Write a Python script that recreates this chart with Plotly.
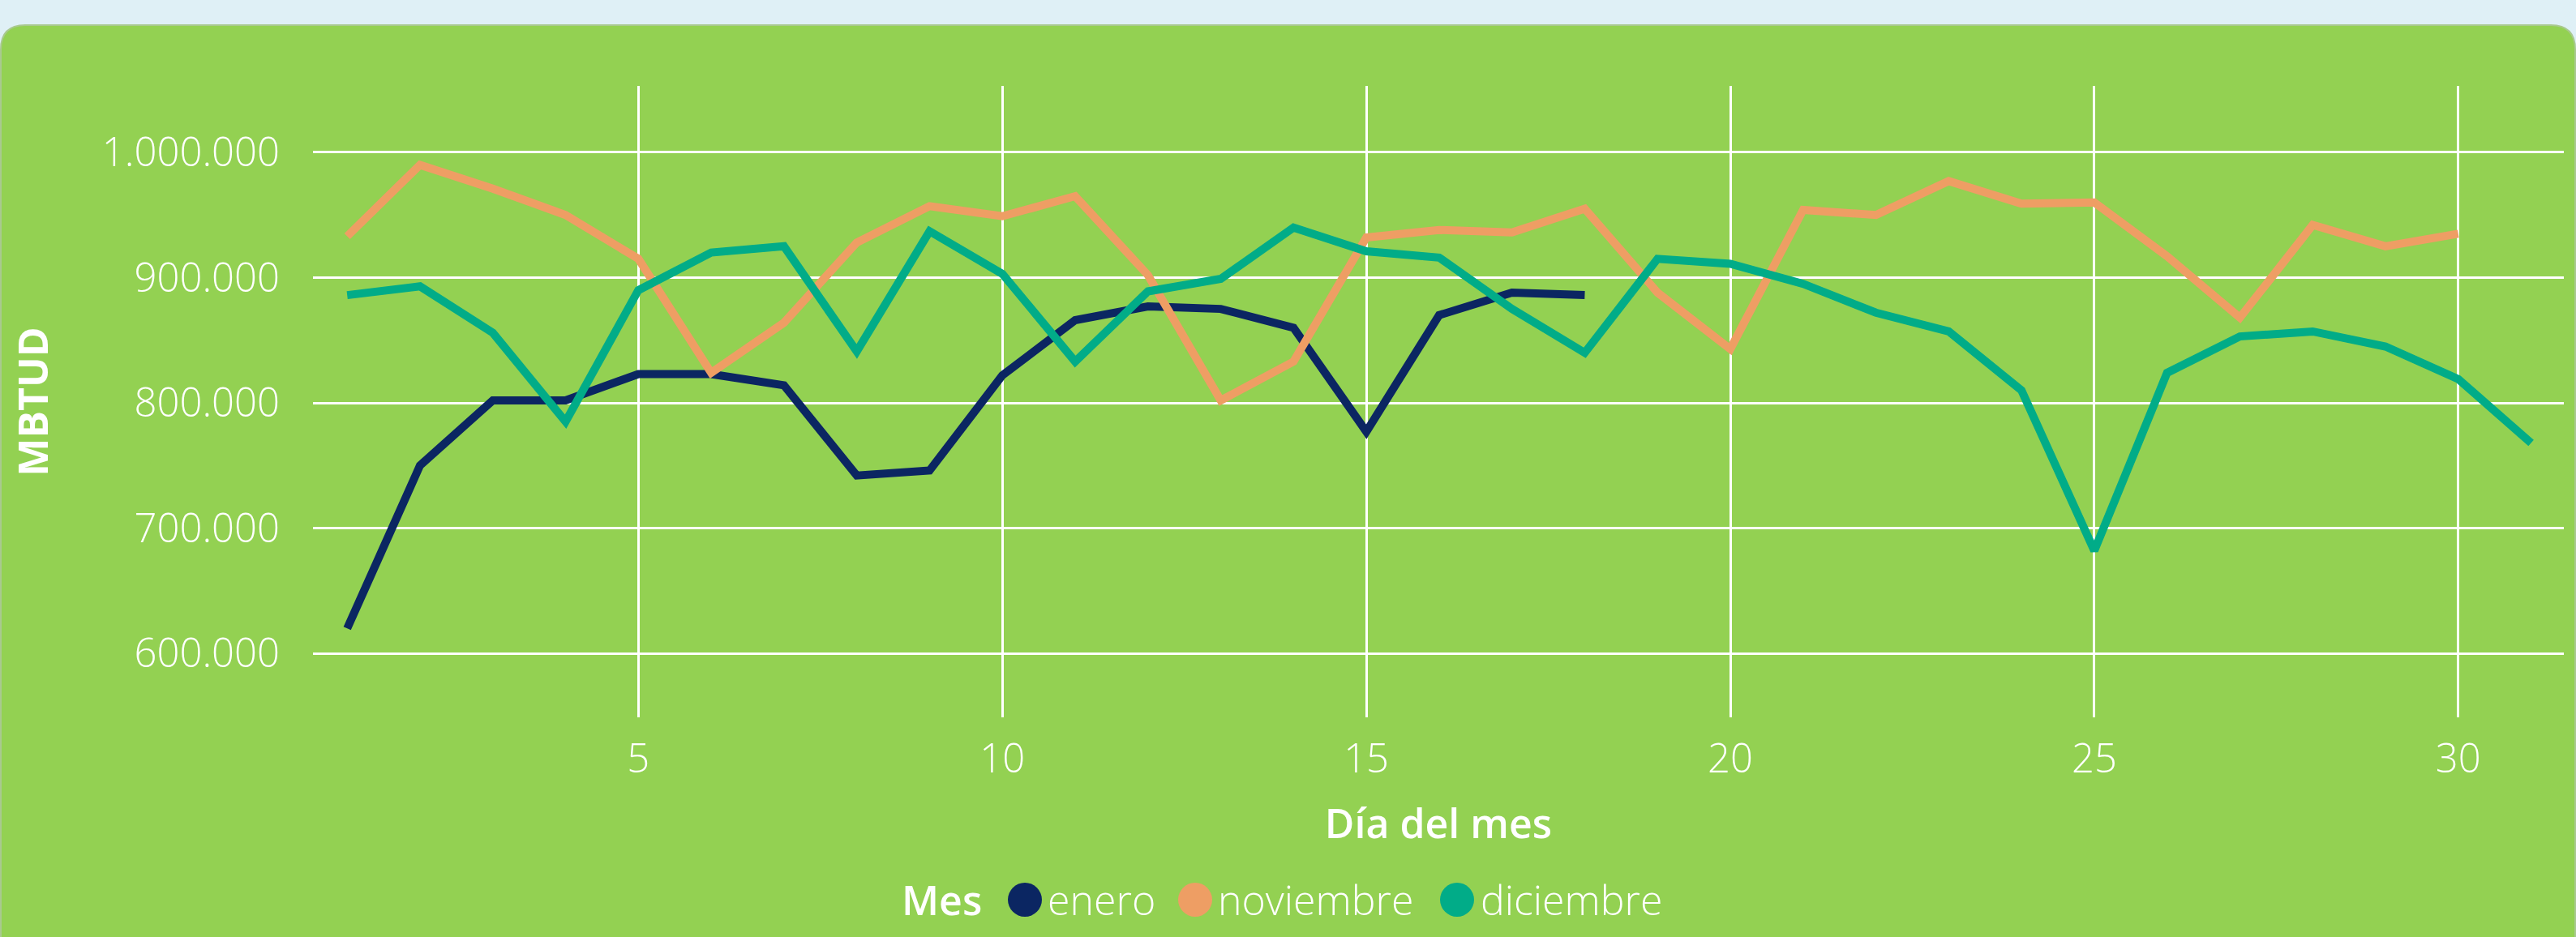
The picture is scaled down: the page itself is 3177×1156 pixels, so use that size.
import plotly.graph_objects as go

# ---------------- data ----------------
dias_enero = list(range(1, 19))
enero = [620000, 750000, 802000, 802000, 823000, 823000, 814000, 742000, 746000,
         822000, 866000, 877000, 875000, 860000, 777000, 870000, 888000, 886000]

dias_noviembre = list(range(1, 31))
noviembre = [933000, 990000, 971000, 950000, 915000, 824000, 864000, 928000, 957000, 949000,
             965000, 902000, 802000, 833000, 932000, 938000, 936000, 955000, 888000, 843000,
             954000, 950000, 977000, 959000, 960000, 917000, 868000, 942000, 925000, 935000]

dias_diciembre = list(range(1, 32))
diciembre = [886000, 893000, 856000, 785000, 890000, 920000, 925000, 841000, 937000, 903000,
             833000, 889000, 899000, 940000, 921000, 916000, 875000, 840000, 915000, 911000,
             895000, 872000, 857000, 810000, 682000, 824000, 853000, 857000, 845000, 819000, 768000]

series_names = ["enero", "noviembre", "diciembre"]
series_colors = ["#0B2662", "#EE9E64", "#01AC88"]

y_tickvals = [600000, 700000, 800000, 900000, 1000000]
y_ticktext = ["600.000", "700.000", "800.000", "900.000", "1.000.000"]
x_tickvals = [5, 10, 15, 20, 25, 30]
x_ticktext = ["5", "10", "15", "20", "25", "30"]

# ---------------- layout geometry (pixels) ----------------
W_FIG, H_FIG = 3177, 1156
L, R, T, B = 386, 3162, 106, 885
PW, PH = R - L, B - T


def px(x):
    return (x - L) / PW


def py(y):
    return (B - y) / PH


FONT = "Open Sans, Noto Sans, sans-serif"
GREEN = "#93D152"
BLUE_BG = "#DFF0F6"

fig = go.Figure()
for name, color, xs, ys in zip(series_names, series_colors,
                               [dias_enero, dias_noviembre, dias_diciembre],
                               [enero, noviembre, diciembre]):
    fig.add_trace(go.Scatter(x=xs, y=ys, mode="lines", name=name,
                             line=dict(color=color, width=10), showlegend=False))

# card background (rounded rectangle)
x0, x1, top, bot, r = 1, 3176, 31, 1200, 30
path = (f"M {px(x0)},{py(bot)} L {px(x0)},{py(top + r)} "
        f"Q {px(x0)},{py(top)} {px(x0 + r)},{py(top)} "
        f"L {px(x1 - r)},{py(top)} Q {px(x1)},{py(top)} {px(x1)},{py(top + r)} "
        f"L {px(x1)},{py(bot)} Z")
shapes = [dict(type="path", xref="paper", yref="paper", path=path,
               fillcolor=GREEN, line=dict(color="#A9C98F", width=2), layer="below")]

# manual legend
annotations = [dict(text="Mes", xref="paper", yref="paper", x=px(1110), y=py(1110),
                    xanchor="left", yanchor="middle", showarrow=False,
                    font=dict(family=FONT, size=50, color="white", weight=600))]
circle_cx = [1264, 1474, 1797]
label_x = [1290, 1500, 1824]
for name, color, cx, lx in zip(series_names, series_colors, circle_cx, label_x):
    shapes.append(dict(type="circle", xref="paper", yref="paper",
                       xsizemode="pixel", ysizemode="pixel",
                       xanchor=px(cx), yanchor=py(1110),
                       x0=-21, x1=21, y0=-21, y1=21,
                       fillcolor=color, line=dict(width=0), layer="above"))
    annotations.append(dict(text=name, xref="paper", yref="paper", x=px(lx), y=py(1110),
                            xanchor="left", yanchor="middle", showarrow=False,
                            font=dict(family=FONT, size=50, color="white", weight=300)))

fig.update_layout(
    width=W_FIG, height=H_FIG,
    margin=dict(l=L, r=W_FIG - R, t=T, b=H_FIG - B, autoexpand=False),
    paper_bgcolor=BLUE_BG,
    plot_bgcolor="rgba(0,0,0,0)",
    shapes=shapes,
    annotations=annotations,
    showlegend=False,
    xaxis=dict(range=[0.53, 31.45], tickvals=x_tickvals, ticktext=x_ticktext,
               showgrid=True, gridcolor="white", gridwidth=3, zeroline=False,
               showline=False, ticks="", ticklabelstandoff=18,
               tickfont=dict(family=FONT, size=49, color="white", weight=300),
               title=dict(text="Día del mes", standoff=32,
                          font=dict(family=FONT, size=50, color="white", weight=600))),
    yaxis=dict(range=[549000, 1053000], tickvals=y_tickvals, ticktext=y_ticktext,
               showgrid=True, gridcolor="white", gridwidth=3, zeroline=False,
               showline=False, ticks="", ticklabelstandoff=40,
               tickfont=dict(family=FONT, size=49, color="white", weight=300),
               title=dict(text="MBTUD", standoff=50,
                          font=dict(family=FONT, size=50, color="white", weight=700))),
)

fig.write_html("out.html", config={"displayModeBar": False},
               post_script="document.body.style.margin='0';")
